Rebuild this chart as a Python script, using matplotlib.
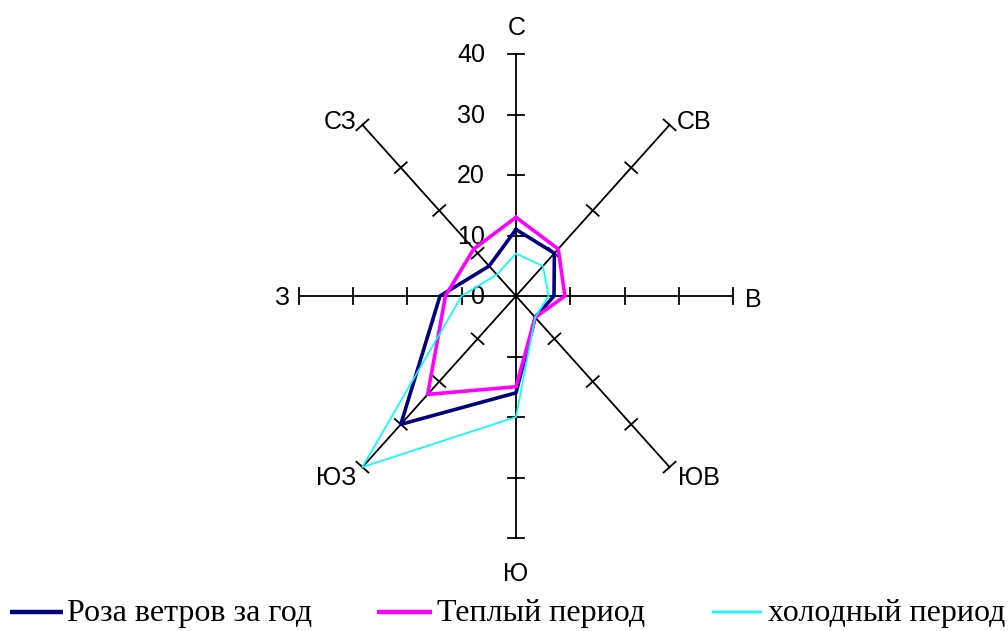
import numpy as np
import matplotlib.pyplot as plt

# румбы и повторяемость ветра, %
directions = ['С', 'СВ', 'В', 'ЮВ', 'Ю', 'ЮЗ', 'З', 'СЗ']
year = [11, 10, 7, 5, 16, 30, 14, 7]
warm = [13, 11, 9, 5, 15, 23, 13, 11]
cold = [7, 7, 6, 5, 20, 40, 10, 5]
r_ticks = [0, 10, 20, 30, 40]
series_names = ['Роза ветров за год', 'Теплый период', 'холодный период']

# масштаб: пикселей на единицу по x и y, центр розы в пикселях
W, H = 1008, 631
cx, cy = 516, 296
sx, sy = 5.43, 6.05
rmax = 40


def px(x, y):
    # пиксели (от левого верхнего угла) -> данные
    return (x - cx) / sx, (cy - y) / sy


fig = plt.figure(figsize=(W / 100, H / 100), dpi=100)
ax = fig.add_axes([0, 0, 1, 1])
ax.set_xlim(-cx / sx, (W - cx) / sx)
ax.set_ylim((cy - H) / sy, cy / sy)
ax.axis('off')

theta = np.deg2rad(np.arange(len(directions)) * 45)

# оси и засечки
for t in theta:
    ax.plot([0, rmax * np.sin(t)], [0, rmax * np.cos(t)], color='black', lw=1.3, zorder=1)
    ux, uy = np.sin(t) * sx, np.cos(t) * sy
    n = np.hypot(ux, uy)
    qx, qy = -uy / n * 8, ux / n * 8
    for r in r_ticks[1:]:
        x0, y0 = r * np.sin(t), r * np.cos(t)
        ax.plot([x0 - qx / sx, x0 + qx / sx], [y0 - qy / sy, y0 + qy / sy],
                color='black', lw=1.3, zorder=1)

# подписи шкалы
for r in r_ticks:
    xx, _ = px(485, 0)
    ax.text(xx, r - 0.2, str(r), ha='right', va='center', fontsize=18,
            family='Liberation Sans', zorder=2)

# подписи румбов
lab_pos = [(517, 28, 'center'), (677, 122, 'left'), (745, 300, 'left'),
           (678, 478, 'left'), (516, 574, 'center'), (356, 478, 'right'),
           (289, 298, 'right'), (356, 122, 'right')]
for name, (lx, ly, ha) in zip(directions, lab_pos):
    xx, yy = px(lx, ly)
    ax.text(xx, yy, name, ha=ha, va='center', fontsize=18, family='Liberation Sans')

# ряды
colors = ['#000080', '#FF00FF', '#00FFFF']
widths = [2.6, 2.6, 1.2]
for vals, c, lw, name in zip([year, warm, cold], colors, widths, series_names):
    v = np.array(vals + vals[:1], dtype=float)
    tt = np.append(theta, theta[0])
    ax.plot(v * np.sin(tt), v * np.cos(tt), color=c, lw=lw, zorder=3, label=name)

# легенда
leg_items = [(10, 63, 67), (377, 432, 437), (712, 762, 768)]
for (x1, x2, xt), c, lw, name in zip(leg_items, colors, widths, series_names):
    a, b = px(x1, 612)
    d, _ = px(x2, 612)
    ax.plot([a, d], [b, b], color=c, lw=lw + 0.6, solid_capstyle='butt', clip_on=False)
    tx, ty = px(xt, 614)
    ax.text(tx, ty, name, ha='left', va='center', fontsize=23, family='Liberation Serif')

fig.savefig('out.png', dpi=100)
